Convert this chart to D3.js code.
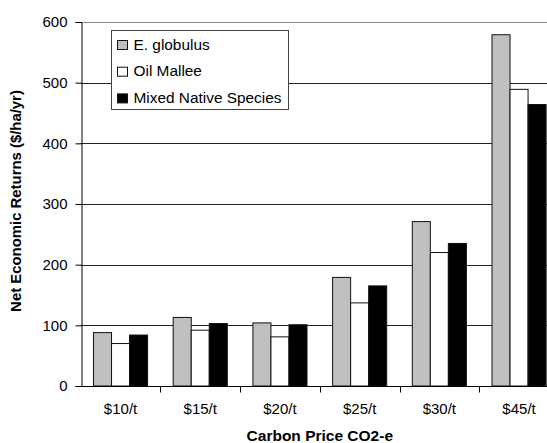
<!DOCTYPE html>
<html>
<head>
<meta charset="utf-8">
<script src="https://cdn.jsdelivr.net/npm/d3@7"></script>
<style>
  html, body { margin: 0; padding: 0; background: #fff; }
  svg { display: block; font-family: "Liberation Sans", Arial, sans-serif; }
</style>
</head>
<body>
<svg id="chart" width="547" height="443"></svg>
<script>
const categories = ["$10/t", "$15/t", "$20/t", "$25/t", "$30/t", "$45/t"];
const seriesNames = ["E. globulus", "Oil Mallee", "Mixed Native Species"];
const eGlobulus = [88, 113, 104, 179, 271, 579];
const oilMallee = [70, 92, 81, 137, 220, 489];
const mixedNative = [84, 103, 101, 165, 235, 464];
const seriesColors = ["#c0c0c0", "#ffffff", "#000000"];
const yTicks = [0, 100, 200, 300, 400, 500, 600];

const seriesValues = [eGlobulus, oilMallee, mixedNative];
const svg = d3.select("#chart");

const plot = { left: 80.7, right: 558.9, top: 22, bottom: 386 };

const x = d3.scaleBand().domain(categories).range([plot.left, plot.right]).paddingInner(0).paddingOuter(0);
const xs = d3.scaleBand().domain(seriesNames).range([0, x.bandwidth()]).paddingInner(0).paddingOuter(0.71);
const y = d3.scaleLinear().domain([0, 600]).range([plot.bottom, plot.top]);

// gridlines
svg.append("g").selectAll("line").data(yTicks.filter(d => d > 0)).join("line")
  .attr("x1", plot.left).attr("x2", plot.right)
  .attr("y1", d => Math.round(y(d)) + 0.5).attr("y2", d => Math.round(y(d)) + 0.5)
  .attr("stroke", d => d === 600 ? "#888" : "#222").attr("stroke-width", 1);

// bars
const groups = svg.append("g").selectAll("g").data(categories).join("g")
  .attr("transform", d => `translate(${x(d)},0)`);
groups.selectAll("rect").data((c, i) => seriesNames.map((s, j) => ({ s, j, v: seriesValues[j][i] }))).join("rect")
  .attr("x", d => xs(d.s)).attr("width", xs.bandwidth())
  .attr("y", d => y(d.v)).attr("height", d => y(0) - y(d.v))
  .attr("fill", d => seriesColors[d.j]).attr("stroke", "#111").attr("stroke-width", 1);

// y axis
const yAxis = d3.axisLeft(y).tickValues(yTicks).tickSize(6).tickPadding(8).tickFormat(d3.format("d"));
const gy = svg.append("g").attr("transform", `translate(${Math.round(plot.left) + 0.5},0)`).call(yAxis);
gy.select(".domain").attr("stroke", "#000");
gy.selectAll(".tick line").attr("stroke", "#000");
gy.selectAll(".tick text").attr("font-size", 15).attr("font-family", "Liberation Sans, Arial, sans-serif").attr("fill", "#000");

// x axis
const gx = svg.append("g").attr("transform", `translate(0,${Math.round(plot.bottom) + 0.5})`);
gx.append("line").attr("x1", plot.left).attr("x2", plot.right).attr("stroke", "#000");
gx.selectAll("line.tk").data(categories.slice(1).concat(["_end"])).join("line").attr("class", "tk")
  .attr("x1", (d, i) => Math.round(plot.left + (i + 1) * x.step()) + 0.5)
  .attr("x2", (d, i) => Math.round(plot.left + (i + 1) * x.step()) + 0.5)
  .attr("y1", 0).attr("y2", 6).attr("stroke", "#000");
gx.selectAll("text").data(categories).join("text")
  .attr("x", d => x(d) + x.bandwidth() / 2).attr("y", 27)
  .attr("text-anchor", "middle").attr("font-size", 15).attr("fill", "#000").text(d => d);

// axis titles
svg.append("text").attr("x", (plot.left + plot.right) / 2).attr("y", 441)
  .attr("text-anchor", "middle").attr("font-size", 15.5).attr("font-weight", "bold").text("Carbon Price CO2-e");
svg.append("text").attr("transform", `translate(21,${(plot.top + plot.bottom) / 2 - 3}) rotate(-90)`)
  .attr("text-anchor", "middle").attr("font-size", 14.9).attr("font-weight", "bold").text("Net Economic Returns ($/ha/yr)");

// legend
const lg = svg.append("g");
lg.append("rect").attr("x", 111.5).attr("y", 30.5).attr("width", 177).attr("height", 79)
  .attr("fill", "#fff").attr("stroke", "#444").attr("stroke-width", 1);
const items = lg.selectAll("g.item").data(seriesNames).join("g").attr("class", "item")
  .attr("transform", (d, i) => `translate(117.5,${40.5 + i * 26.7})`);
items.append("rect").attr("width", 10).attr("height", 9)
  .attr("fill", (d, i) => seriesColors[i]).attr("stroke", "#111");
items.append("text").attr("x", 16).attr("y", 9).attr("font-size", 15.4).attr("fill", "#000").text(d => d);
</script>
</body>
</html>
